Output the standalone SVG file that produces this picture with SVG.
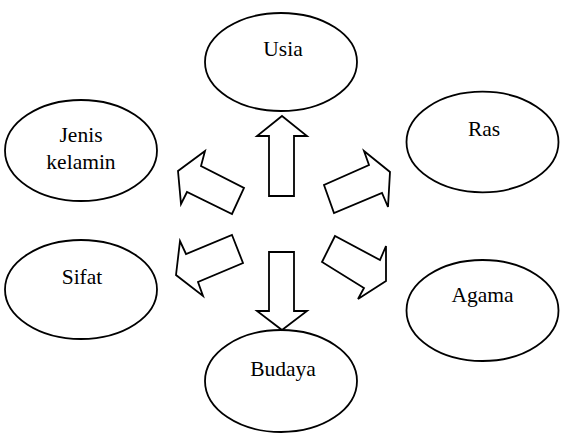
<svg xmlns="http://www.w3.org/2000/svg" width="565" height="442" viewBox="0 0 565 442">
<style>
.node ellipse{fill:#fff;stroke:#000;stroke-width:1.8}
.conn polygon{fill:#fff;stroke:#000;stroke-width:1.8;stroke-linejoin:miter}
</style>
<rect width="565" height="442" fill="#fff"/>
<g font-family="Liberation Serif, serif" font-size="21.5" fill="#000" text-anchor="middle">
<g id="usia" class="node"><ellipse cx="281" cy="62" rx="76" ry="49"/><text x="283" y="56">Usia</text></g>
<g id="ras" class="node"><ellipse cx="482.5" cy="142" rx="76" ry="50.3"/><text x="484" y="136">Ras</text></g>
<g id="jenis-kelamin" class="node"><ellipse cx="81" cy="150.5" rx="76" ry="50.5"/><text x="81" y="142">Jenis</text><text x="81" y="169">kelamin</text></g>
<g id="sifat" class="node"><ellipse cx="81" cy="289.5" rx="76" ry="49.5"/><text x="82" y="284">Sifat</text></g>
<g id="agama" class="node"><ellipse cx="482.5" cy="310.5" rx="76" ry="50.5"/><text x="482.5" y="302">Agama</text></g>
<g id="budaya" class="node"><ellipse cx="281" cy="381" rx="76" ry="51"/><text x="283" y="376">Budaya</text></g>
</g>
<g id="connectors" class="conn">
<polygon points="282,116 307,136 294,136 294,196 269,196 269,136 257,136"/>
<polygon points="282,330 307,311 294,311 294,252 269,252 269,311 257,311"/>
<polygon points="205,151 178,171 181,204 187,192 232,214 244,188 201,166"/>
<polygon points="364,151 390,172 388,207 382,193 334,213 324,185 369,165"/>
<polygon points="232,235 243,263 198,282 203,296 176,275 180,241 186,254"/>
<polygon points="335,236 322,262 364,288 358,299 386,281 386,246 380,260"/>
</g>
</svg>
